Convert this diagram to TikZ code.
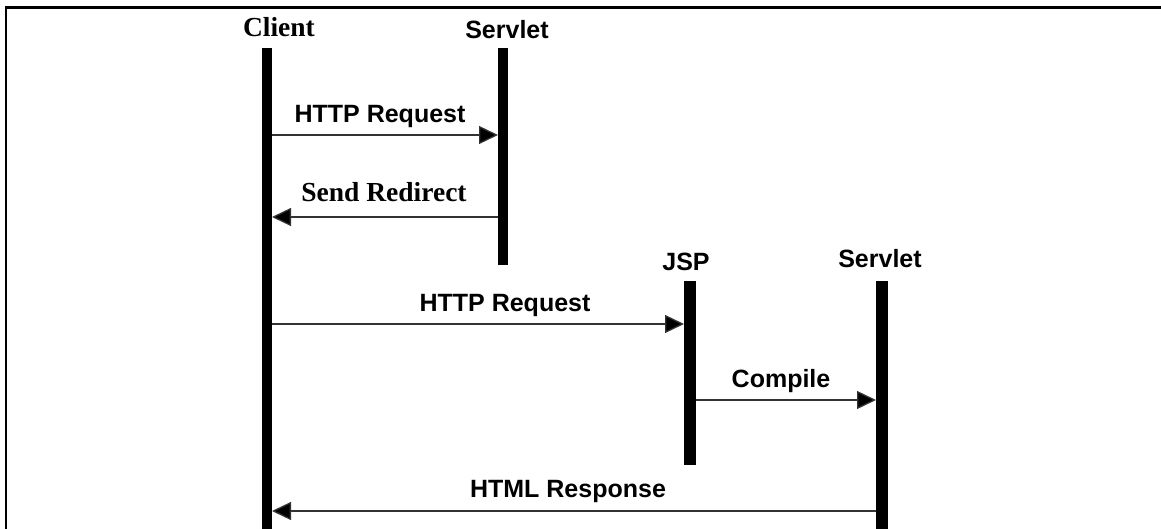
\documentclass[tikz,border=0pt]{standalone}
\usepackage{fontspec}
\setmainfont{Liberation Sans}
\newfontfamily\serifb{Liberation Serif}
\usetikzlibrary{arrows.meta}
\tikzset{
  lifeline/.style={fill=black, draw=none, minimum width=10pt, inner sep=0pt, outer sep=0pt, anchor=north},
  sanslabel/.style={font=\fontsize{25}{30}\selectfont\bfseries, inner sep=0pt, anchor=base},
  seriflabel/.style={font=\serifb\fontsize{27.5}{30}\selectfont\bfseries, inner sep=0pt, anchor=base},
  msg/.style={draw=black!80, line width=1.3pt, -{Triangle[length=19pt,width=18pt,fill=black]}},
}
\begin{document}
\begin{tikzpicture}[x=1pt,y=-1pt]
\useasboundingbox (0,0) rectangle (1161,529);
\draw[line width=2.3pt] (6,529) -- (6,7.5) -- (1161,7.5);

% lifelines
\node[lifeline, minimum height=481pt] (client) at (267,48) {};
\node[lifeline, minimum height=217pt] (servletA) at (503,48) {};
\node[lifeline, minimum width=12pt, minimum height=184pt] (jsp) at (690,281) {};
\node[lifeline, minimum width=12pt, minimum height=248pt] (servletB) at (882,281) {};

% headers
\node[seriflabel] (clientlbl) at (279,37) {Client};
\node[sanslabel] (servletAlbl) at (507,39) {Servlet};
\node[sanslabel] (jsplbl) at (686,270) {JSP};
\node[sanslabel] (servletBlbl) at (880,267) {Servlet};

% messages
\draw[msg] (client.east |- 0,135) -- (servletA.west |- 0,135);
\node[sanslabel] (m1) at (380,123) {HTTP Request};

\draw[msg] (servletA.west |- 0,217) -- (client.east |- 0,217);
\node[seriflabel] (m2) at (384,202) {Send Redirect};

\draw[msg] (client.east |- 0,324) -- (jsp.west |- 0,324);
\node[sanslabel] (m3) at (505,311) {HTTP Request};

\draw[msg] (jsp.east |- 0,400) -- (servletB.west |- 0,400);
\node[sanslabel] (m4) at (781,387) {Compile};

\draw[msg] (servletB.west |- 0,511) -- (client.east |- 0,511);
\node[sanslabel] (m5) at (568,497) {HTML Response};
\end{tikzpicture}
\end{document}
